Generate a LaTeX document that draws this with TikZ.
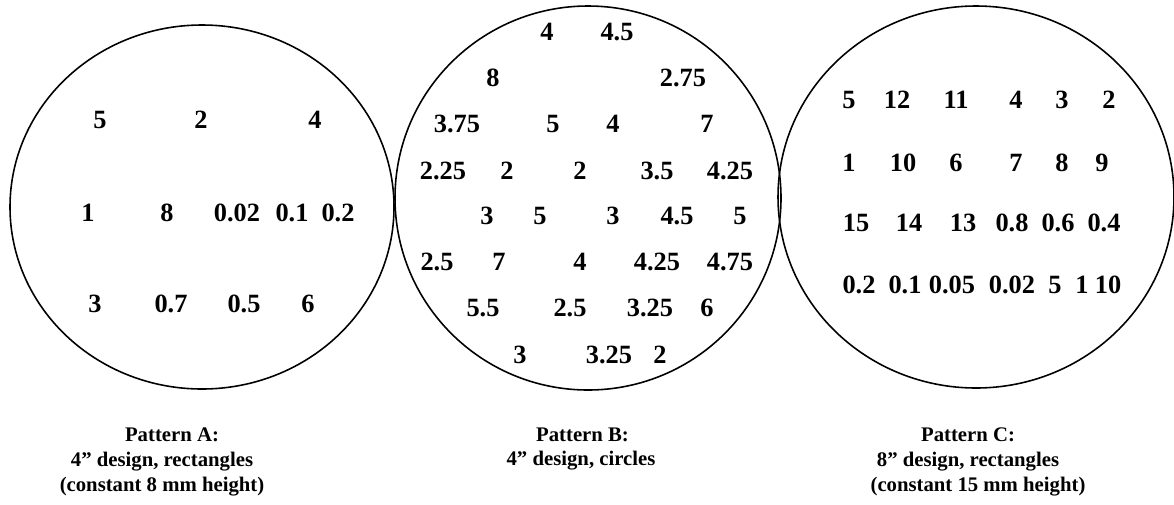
\documentclass[tikz,border=0pt]{standalone}
\usepackage{fontspec}
\setmainfont{Liberation Serif}
\tikzset{
  wafer/.style={line width=0.9pt},
  val/.style={font=\fontsize{15}{17}\selectfont\bfseries, inner sep=0pt},
  caption/.style={font=\fontsize{11.8}{14.2}\selectfont\bfseries, align=center, inner sep=0pt}
}
\begin{document}
\begin{tikzpicture}[x=0.2mm,y=-0.2mm]
	\useasboundingbox (0,0) rectangle (1174,504);
	% the three wafers
	\draw[wafer] (202,207) ellipse (192 and 182);
	\draw[wafer] (588,198) ellipse (193 and 192);
	\draw[wafer] (976,197) ellipse (198 and 191);
	% pattern A
	\node[val] (a11) at (100,120) {5}; \node[val] (a12) at (201,120) {2}; \node[val] (a13) at (315,120) {4};
	\node[val] (a21) at (88,213) {1}; \node[val] (a22) at (167,213) {8}; \node[val] (a23) at (237,213) {0.02};
	\node[val] (a24) at (292,213) {0.1}; \node[val] (a25) at (338,213) {0.2};
	\node[val] (a31) at (95,304) {3}; \node[val] (a32) at (171,304) {0.7}; \node[val] (a33) at (244,304) {0.5};
	\node[val] (a34) at (308,304) {6};
	% pattern B
	\node[val] (b11) at (547,32) {4}; \node[val] (b12) at (617,32) {4.5};
	\node[val] (b21) at (493,78) {8}; \node[val] (b22) at (683,78) {2.75};
	\node[val] (b31) at (457,124) {3.75}; \node[val] (b32) at (553,124) {5}; \node[val] (b33) at (613,124) {4};
	\node[val] (b34) at (707,124) {7};
	\node[val] (b41) at (443,171) {2.25}; \node[val] (b42) at (507,171) {2}; \node[val] (b43) at (580,171) {2};
	\node[val] (b44) at (657,171) {3.5}; \node[val] (b45) at (730,171) {4.25};
	\node[val] (b51) at (487,216) {3}; \node[val] (b52) at (540,216) {5}; \node[val] (b53) at (613,216) {3};
	\node[val] (b54) at (677,216) {4.5}; \node[val] (b55) at (740,216) {5};
	\node[val] (b61) at (437,262) {2.5}; \node[val] (b62) at (499,262) {7}; \node[val] (b63) at (580,262) {4};
	\node[val] (b64) at (657,262) {4.25}; \node[val] (b65) at (730,262) {4.75};
	\node[val] (b71) at (483,308) {5.5}; \node[val] (b72) at (570,308) {2.5}; \node[val] (b73) at (650,308) {3.25};
	\node[val] (b74) at (707,308) {6};
	\node[val] (b81) at (520,355) {3}; \node[val] (b82) at (609,355) {3.25}; \node[val] (b83) at (660,355) {2};
	% pattern C
	\node[val] (c11) at (849,100) {5}; \node[val] (c12) at (897,100) {12}; \node[val] (c13) at (956,100) {11};
	\node[val] (c14) at (1016,100) {4}; \node[val] (c15) at (1062,100) {3}; \node[val] (c16) at (1109,100) {2};
	\node[val] (c21) at (849,163) {1}; \node[val] (c22) at (903,163) {10}; \node[val] (c23) at (956,163) {6};
	\node[val] (c24) at (1016,163) {7}; \node[val] (c25) at (1062,163) {8}; \node[val] (c26) at (1102,163) {9};
	\node[val] (c31) at (856,223) {15}; \node[val] (c32) at (909,223) {14}; \node[val] (c33) at (963,223) {13};
	\node[val] (c34) at (1012,223) {0.8}; \node[val] (c35) at (1058,223) {0.6}; \node[val] (c36) at (1104,223) {0.4};
	\node[val] (c41) at (859,285) {0.2}; \node[val] (c42) at (905,285) {0.1}; \node[val] (c43) at (952,285) {0.05};
	\node[val] (c44) at (1012,285) {0.02}; \node[val] (c45) at (1055,285) {5}; \node[val] (c46) at (1082,285) {1};
	\node[val] (c47) at (1108,285) {10};
	% captions
	\node[caption] (capA) at (162,462) {\hspace*{4mm}Pattern A:\\ 4” design, rectangles\\ (constant 8 mm height)};
	\node[caption] (capB) at (581,449) {\hspace*{0.6mm}Pattern B:\\ 4” design, circles};
	\node[caption] (capC) at (968,462) {Pattern C:\\ 8” design, rectangles\\ \hspace*{4mm}(constant 15 mm height)};
\end{tikzpicture}
\end{document}
